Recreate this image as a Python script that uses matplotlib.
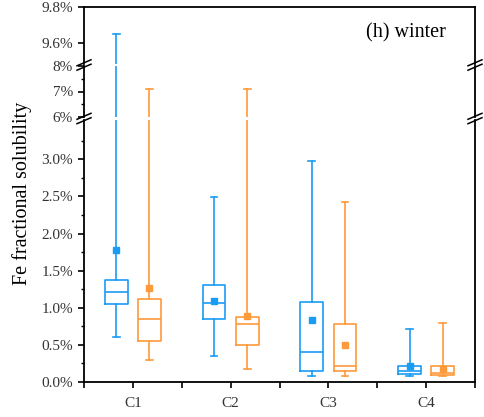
import numpy as np
import matplotlib
matplotlib.use("Agg")
import matplotlib.pyplot as plt
from matplotlib.lines import Line2D
from matplotlib.ticker import FixedLocator, FuncFormatter

plt.rcParams['font.family'] = ['Liberation Serif', 'DejaVu Serif']

sites = ["C1", "C2", "C3", "C4"]

# box statistics for each site, values in %
blueLow  = [0.60, 0.35, 0.08, 0.08]
blueQ1   = [1.05, 0.85, 0.15, 0.11]
blueMed  = [1.21, 1.06, 0.40, 0.15]
blueQ3   = [1.37, 1.31, 1.08, 0.21]
blueHigh = [9.65, 2.49, 2.98, 0.72]
blueMean = [1.78, 1.09, 0.84, 0.21]

orangeLow  = [0.30, 0.18, 0.08, 0.08]
orangeQ1   = [0.55, 0.50, 0.15, 0.10]
orangeMed  = [0.85, 0.78, 0.21, 0.12]
orangeQ3   = [1.12, 0.88, 0.78, 0.21]
orangeHigh = [7.10, 7.10, 2.42, 0.80]
orangeMean = [1.27, 0.89, 0.50, 0.18]

BLUE = '#1a9cf5'
ORANGE = '#ff9a3a'
TEXT = '#333333'


def makeStats(low, q1, med, q3, high, mean):
  stats = []
  for i in range(len(low)):
    stats.append(dict(whislo=low[i], q1=q1[i], med=med[i], q3=q3[i],
                      whishi=high[i], mean=mean[i], fliers=[]))
  return stats


def drawBoxes(ax, stats, positions, color):
  lw = 1.2
  ax.bxp(stats, positions=positions, widths=0.235, showmeans=True,
         showfliers=False, capwidths=0.07, manage_ticks=False,
         boxprops=dict(color=color, linewidth=lw),
         medianprops=dict(color=color, linewidth=lw),
         whiskerprops=dict(color=color, linewidth=lw),
         capprops=dict(color=color, linewidth=lw),
         meanprops=dict(marker='s', markerfacecolor=color,
                        markeredgecolor=color, markersize=4.5))


W, H = 484, 417
fig = plt.figure(figsize=(W / 100, H / 100), dpi=100)

left = 84 / W
width = (475 - 84) / W


def axRect(yTop, yBottom):
  return [left, 1 - yBottom / H, width, (yBottom - yTop) / H]


axTop = fig.add_axes(axRect(7, 64))
axMid = fig.add_axes(axRect(66, 117))
axBot = fig.add_axes(axRect(120, 382))

blueStats = makeStats(blueLow, blueQ1, blueMed, blueQ3, blueHigh, blueMean)
orangeStats = makeStats(orangeLow, orangeQ1, orangeMed, orangeQ3, orangeHigh, orangeMean)
x = np.arange(1, len(sites) + 1)

for ax in (axTop, axMid, axBot):
  drawBoxes(ax, blueStats, x - 0.17, BLUE)
  drawBoxes(ax, orangeStats, x + 0.17, ORANGE)
  ax.set_xlim(0.5, 4.5)
  for s in ax.spines.values():
    s.set_linewidth(1.3)
  ax.tick_params(axis='both', direction='out', width=1.2, length=4.5,
                 labelsize=11, labelcolor=TEXT)
  ax.tick_params(axis='y', which='minor', direction='out', width=1.0, length=2.5)

axTop.set_ylim(9.483, 9.8)
axMid.set_ylim(6, 8)
axBot.set_ylim(0, 3.53)

axTop.yaxis.set_major_locator(FixedLocator([9.6, 9.8]))
axTop.yaxis.set_major_formatter(FuncFormatter(lambda v, p: "%.1f%%" % v))
axMid.yaxis.set_major_locator(FixedLocator([6, 7, 8]))
axMid.yaxis.set_minor_locator(FixedLocator([6.5, 7.5]))
axMid.yaxis.set_major_formatter(FuncFormatter(lambda v, p: "%d%%" % round(v)))
axBot.yaxis.set_major_locator(FixedLocator(np.arange(0, 3.01, 0.5)))
axBot.yaxis.set_minor_locator(FixedLocator(np.arange(0.25, 3.5, 0.5)))
axBot.yaxis.set_major_formatter(FuncFormatter(lambda v, p: "%.1f%%" % v))

axTop.spines['bottom'].set_visible(False)
axMid.spines['top'].set_visible(False)
axMid.spines['bottom'].set_visible(False)
axBot.spines['top'].set_visible(False)
for ax in (axTop, axMid):
  ax.tick_params(axis='x', which='both', bottom=False, labelbottom=False)

axBot.set_xticks(x)
axBot.set_xticklabels(sites)
axBot.xaxis.set_minor_locator(FixedLocator([0.5, 1.5, 2.5, 3.5, 4.5]))
axBot.tick_params(axis='x', which='both', direction='out', width=1.2, length=4.5)
axBot.tick_params(axis='x', which='major', pad=6)

# double slash marks where the y axis is broken
for yc in (65, 118.5):
  for xc in (84, 475):
    for dy in (-2.2, 2.2):
      xs = [(xc - 7) / W, (xc + 7) / W]
      ys = [1 - (yc + dy + 3) / H, 1 - (yc + dy - 3) / H]
      fig.add_artist(Line2D(xs, ys, color='black', linewidth=1.1))

fig.text(22 / W, 1 - 193 / H, "Fe fractional solubility", rotation=90,
         ha='center', va='center', fontsize=14.5, color='black')
fig.text(406 / W, 1 - 33 / H, "(h) winter", ha='center', va='center',
         fontsize=14.5, color='black')

fig.savefig("out.png", dpi=100)
